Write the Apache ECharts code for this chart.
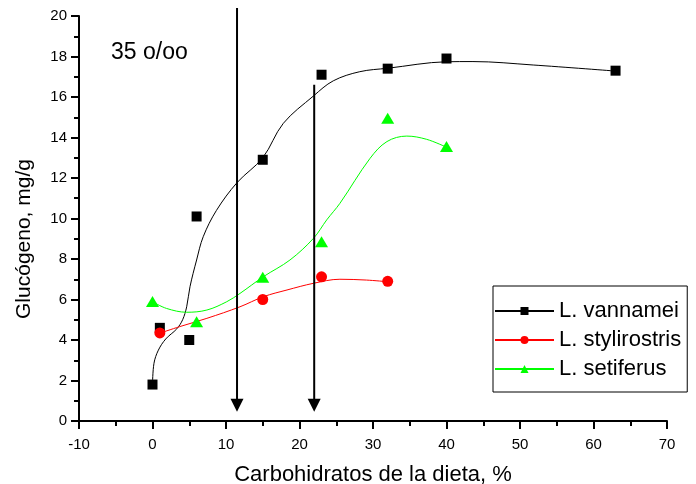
<!DOCTYPE html>
<html>
<head>
<meta charset="utf-8">
<script src="https://cdn.jsdelivr.net/npm/echarts@6/dist/echarts.min.js"></script>
<style>
html,body{margin:0;padding:0;background:#fff;}
#chart{width:696px;height:484px;}
</style>
</head>
<body>
<div id="chart"></div>
<script>
// Measured points
var vannameiX = [0, 1, 5, 6, 15, 23, 32, 40, 63];
var vannameiY = [1.8, 4.6, 4.0, 10.1, 12.9, 17.1, 17.4, 17.9, 17.3];
var styliX = [1, 15, 23, 32];
var styliY = [4.35, 6.0, 7.12, 6.9];
var setiX = [0, 6, 15, 23, 32, 40];
var setiY = [5.9, 4.9, 7.1, 8.85, 14.95, 13.55];

// Fitted curves
var vannameiCurveX = [0, 0.2, 0.8, 1.8, 3.3, 4.1, 4.65, 5.1, 6.0, 6.9, 8.7, 11.5, 15, 17.8, 21.9, 24.6, 28.2, 32, 40, 43.6, 51.8, 63];
var vannameiCurveY = [1.8, 2.85, 3.5, 4.05, 4.55, 5.0, 5.64, 6.63, 7.95, 9.1, 10.4, 11.77, 13.0, 14.7, 16.05, 16.8, 17.25, 17.42, 17.74, 17.75, 17.58, 17.28];
var styliCurveX = [0.93, 3.7, 7.4, 11.9, 15.1, 18.3, 21.9, 25.5, 29.1, 31.9];
var styliCurveY = [4.33, 4.66, 5.07, 5.64, 6.14, 6.47, 6.8, 7.0, 6.96, 6.88];
var setiCurveX = [0, 1.9, 4.65, 7.4, 10.1, 11.9, 15.1, 18.7, 21.9, 23.7, 25.5, 29.6, 31.9, 34.6, 37.3, 40];
var setiCurveY = [5.89, 5.56, 5.37, 5.48, 5.89, 6.3, 7.13, 7.95, 9.02, 9.93, 10.75, 12.97, 13.8, 14.07, 13.91, 13.52];

// Arrows
var arrowX = [11.5, 22];
var arrowTop = [20.4, 16.6];
var arrowTip = [0.46, 0.46];

var xTicks = [-10, 0, 10, 20, 30, 40, 50, 60, 70];
var yTicks = [0, 2, 4, 6, 8, 10, 12, 14, 16, 18, 20];
var seriesNames = ['L. vannamei', 'L. stylirostris', 'L. setiferus'];
var annotation = '35 o/oo';
var xTitle = 'Carbohidratos de la dieta, %';
var yTitle = 'Glucógeno, mg/g';

function zip(a, b) { return a.map(function (v, i) { return [v, b[i]]; }); }

var FONT = '"Liberation Sans", Arial, sans-serif';
var chart = echarts.init(document.getElementById('chart'), null, {renderer: 'canvas'});

var axisCommon = {
  axisLine: {show: true, onZero: false, lineStyle: {color: '#000', width: 2}},
  axisTick: {show: true, inside: false, length: 8, lineStyle: {color: '#000', width: 2}},
  minorTick: {show: true, splitNumber: 2, length: 5, lineStyle: {color: '#000', width: 2}},
  splitLine: {show: false},
  axisLabel: {color: '#000', fontFamily: FONT, fontSize: 15},
  nameTextStyle: {color: '#000', fontFamily: FONT, fontSize: 21}
};

chart.setOption({
  animation: false,
  backgroundColor: '#fff',
  grid: {left: 79, right: 29, top: 16, bottom: 63, containLabel: false, outerBoundsMode: 'none'},
  xAxis: Object.assign({}, axisCommon, {
    type: 'value', min: xTicks[0], max: xTicks[xTicks.length - 1], interval: 10,
    name: xTitle, nameLocation: 'middle', nameGap: 43,
    axisLabel: Object.assign({}, axisCommon.axisLabel, {margin: 16}),
    nameTextStyle: Object.assign({}, axisCommon.nameTextStyle, {fontSize: 22})
  }),
  yAxis: Object.assign({}, axisCommon, {
    type: 'value', min: yTicks[0], max: yTicks[yTicks.length - 1], interval: 2,
    name: yTitle, nameLocation: 'middle', nameGap: 44, nameRotate: 90,
    axisLabel: Object.assign({}, axisCommon.axisLabel, {margin: 12}),
    nameTextStyle: Object.assign({}, axisCommon.nameTextStyle, {padding: [0, 41, 0, 0]})
  }),
  legend: {
    show: true,
    data: seriesNames,
    orient: 'vertical',
    left: 493, top: 286,
    backgroundColor: '#fff',
    borderColor: '#000', borderWidth: 1,
    padding: [14, 6, 12, 1],
    itemWidth: 59, itemHeight: 10, itemGap: 7,
    textStyle: {color: '#000', fontFamily: FONT, fontSize: 22, lineHeight: 22},
    selectedMode: false
  },
  graphic: [{
    type: 'text', left: 111, top: 41, silent: true,
    style: {text: annotation, fontFamily: FONT, fontSize: 23, fill: '#000'}
  }],
  series: [
    {name: seriesNames[0], type: 'line', data: zip(vannameiCurveX, vannameiCurveY), smooth: 0.35,
     symbol: 'rect', showSymbol: false, lineStyle: {color: '#000', width: 1}, itemStyle: {color: '#000'}, z: 2},
    {name: seriesNames[1], type: 'line', data: zip(styliCurveX, styliCurveY), smooth: 0.35,
     symbol: 'circle', showSymbol: false, lineStyle: {color: '#ff0000', width: 1}, itemStyle: {color: '#ff0000'}, z: 2},
    {name: seriesNames[2], type: 'line', data: zip(setiCurveX, setiCurveY), smooth: 0.35,
     symbol: 'triangle', showSymbol: false, lineStyle: {color: '#00ff00', width: 1}, itemStyle: {color: '#00ff00'}, z: 2},
    {name: seriesNames[0], type: 'scatter', data: zip(vannameiX, vannameiY), symbol: 'rect', symbolSize: 10,
     itemStyle: {color: '#000', opacity: 1}, z: 4},
    {name: seriesNames[1], type: 'scatter', data: zip(styliX, styliY), symbol: 'circle', symbolSize: 11,
     itemStyle: {color: '#ff0000', opacity: 1}, z: 5},
    {name: seriesNames[2], type: 'scatter', data: zip(setiX, setiY), symbol: 'triangle', symbolSize: [13, 11],
     itemStyle: {color: '#00ff00', opacity: 1}, z: 4},
    {name: 'arrows', type: 'custom', clip: false, z: 6,
     data: arrowX.map(function (x, i) { return [x, arrowTop[i], arrowTip[i]]; }),
     renderItem: function (params, api) {
       var top = api.coord([api.value(0), api.value(1)]);
       var tip = api.coord([api.value(0), api.value(2)]);
       var hw = 6.5, hh = 13;
       return {type: 'group', children: [
         {type: 'line', shape: {x1: top[0], y1: top[1], x2: tip[0], y2: tip[1] - hh + 1},
          style: {stroke: '#000', lineWidth: 2}},
         {type: 'polygon', shape: {points: [[tip[0] - hw, tip[1] - hh], [tip[0] + hw, tip[1] - hh], [tip[0], tip[1]]]},
          style: {fill: '#000'}}
       ]};
     }}
  ]
});
</script>
</body>
</html>
